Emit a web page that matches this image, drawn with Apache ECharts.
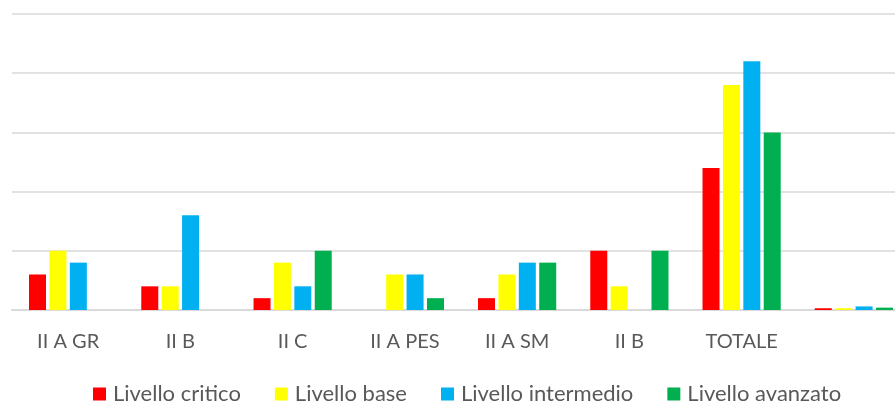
<!DOCTYPE html>
<html>
<head>
<meta charset="utf-8">
<script src="https://cdn.jsdelivr.net/npm/echarts@6/dist/echarts.min.js"></script>
<style>
  html, body { margin: 0; padding: 0; background: #fff; }
  #chart { width: 895px; height: 406px; }
</style>
</head>
<body>
<div id="chart"></div>
<script>
  let categories = ['II A GR', 'II B', 'II C', 'II A PES', 'II A SM', 'II B', 'TOTALE', ''];
  let seriesNames = ['Livello critico', 'Livello base', 'Livello intermedio', 'Livello avanzato'];
  let colors = ['#FF0000', '#FFFF00', '#00B0F0', '#00B050'];

  let critico = [3, 2, 1, 0, 1, 5, 12, 0.15];
  let base = [5, 2, 4, 3, 3, 2, 19, 0.15];
  let intermedio = [4, 8, 2, 3, 4, 0, 21, 0.3];
  let avanzato = [0, 0, 5, 1, 4, 5, 15, 0.2];

  let values = [critico, base, intermedio, avanzato];
  let fontFamily = 'Lato, "Open Sans", sans-serif';

  let chart = echarts.init(document.getElementById('chart'));

  let series = seriesNames.map(function(name, index) {
    return {
      name: name,
      type: 'bar',
      data: values[index],
      barWidth: 17,
      barGap: '20%',
      itemStyle: {
        color: colors[index]
      }
    };
  });

  chart.setOption({
    animation: false,
    grid: {
      left: 12,
      width: 898,
      top: 14,
      bottom: 96,
      containLabel: false,
      outerBoundsMode: 'none'
    },
    legend: {
      top: 378,
      left: 88,
      itemWidth: 13,
      itemHeight: 13,
      itemGap: 34,
      icon: 'rect',
      textStyle: {
        fontFamily: fontFamily,
        fontSize: 22,
        color: '#595959',
        padding: [0, 0, 0, 2]
      }
    },
    xAxis: {
      type: 'category',
      data: categories,
      axisLine: {
        lineStyle: { color: '#d9d9d9', width: 2 }
      },
      axisTick: { show: false },
      axisLabel: {
        margin: 22,
        fontFamily: fontFamily,
        fontSize: 20,
        color: '#595959'
      }
    },
    yAxis: {
      type: 'value',
      min: 0,
      max: 25,
      interval: 5,
      axisLabel: { show: false },
      axisLine: { show: false },
      axisTick: { show: false },
      splitLine: {
        lineStyle: { color: '#d9d9d9', width: 1.5 }
      }
    },
    series: series
  });
</script>
</body>
</html>
